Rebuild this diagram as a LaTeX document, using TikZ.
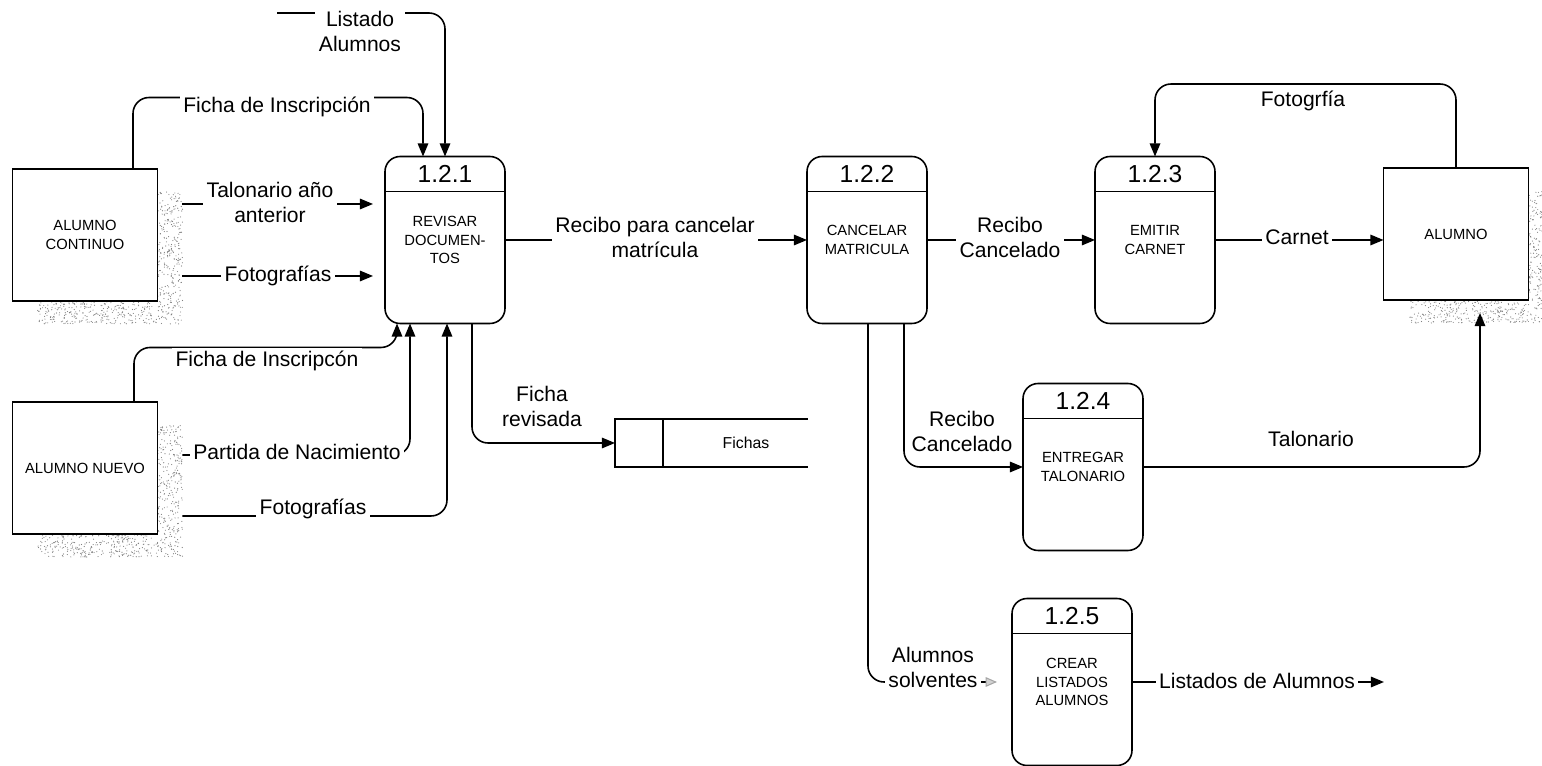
\documentclass[tikz,border=0pt]{standalone}
\usepackage{fontspec}
\setmainfont{Liberation Sans}
\usetikzlibrary{arrows.meta,calc}

% stippled drop shadow: right strip and bottom strip of an offset box
\newcommand\dotshadow[1]{%
  \foreach \k in {1,...,300}{\fill[black!50] (#1.north east) ++({-rnd*25},{rnd*132}) circle (0.33pt);}
  \foreach \k in {1,...,300}{\fill[black!50] (#1.south west) ++({rnd*120},{-rnd*23}) circle (0.33pt);}
}

% process: rounded box, header line, number
\newcommand\dfdproc[4]{%
  \node[proc] (#1) at (#2) {#4};
  \draw[line width=0.9pt] ($(#1.north west)+(0,35)$) -- ($(#1.north east)+(0,35)$);
  \node[pnum] (#1n) at ($(#1.north)+(0,17.5)$) {#3};
}

\begin{document}
\begin{tikzpicture}[x=0.02cm,y=-0.02cm,
  every node/.style={inner sep=0pt, outer sep=0pt},
  ext/.style={draw, fill=white, line width=0.9pt, minimum width=2.9cm, minimum height=2.64cm,
              align=center, font=\fontsize{8.4}{10.4}\selectfont},
  dropzone/.style={minimum width=2.9cm, minimum height=2.64cm},
  proc/.style={draw, fill=white, line width=0.9pt, rounded corners=0.3cm, minimum width=2.4cm,
               minimum height=3.34cm, align=center, font=\fontsize{8.4}{10.6}\selectfont},
  pnum/.style={font=\fontsize{14}{16}\selectfont},
  flow/.style={draw, line width=0.9pt, rounded corners=0.32cm, -{Triangle[length=7.5pt,width=6pt]}},
  softflow/.style={draw, line width=0.9pt, rounded corners=0.32cm,
                   -{Triangle[length=6.5pt,width=5.5pt,color=gray!70,fill=gray!35,line width=0.6pt]}},
  lbl/.style={fill=white, inner sep=2pt, align=center, font=\fontsize{12}{14.2}\selectfont},
]
\useasboundingbox (0,0) rectangle (1542,766);
\pgfmathsetseed{7}

% external entities with stippled shadows
\node[dropzone] (acS) at (110,258) {};
\node[dropzone] (anS) at (110,491) {};
\node[dropzone] (alS) at (1481,257) {};
\dotshadow{acS}
\dotshadow{anS}
\dotshadow{alS}
\node[ext] (ac) at (85,235) {ALUMNO\\CONTINUO};
\node[ext] (an) at (85,468) {ALUMNO NUEVO};
\node[ext] (al) at (1456,234) {ALUMNO};

% processes
\dfdproc{p1}{445,240}{1.2.1}{REVISAR\\DOCUMEN-\\TOS}
\dfdproc{p2}{867,240}{1.2.2}{CANCELAR\\MATRICULA}
\dfdproc{p3}{1155,240}{1.2.3}{EMITIR\\CARNET}
\dfdproc{p4}{1083,467}{1.2.4}{ENTREGAR\\TALONARIO}
\dfdproc{p5}{1072,682}{1.2.5}{CREAR\\LISTADOS\\ALUMNOS}

% data store
\node[minimum width=3.86cm, minimum height=0.96cm] (st) at (711.5,443) {};
\draw[line width=0.9pt] (st.north east) -- (st.north west) -- (st.south west) -- (st.south east);
\draw[line width=0.9pt] ($(st.north west)+(48,0)$) -- ($(st.south west)+(48,0)$);
\node[font=\fontsize{9}{11}\selectfont] (stl) at (746,443) {Fichas};

% free ends
\coordinate (lsrc) at (277,13);
\coordinate (lout) at (1384,682);

% flows into 1.2.1
\draw[flow] ($(ac.north)+(48,0)$) |- ($(p1.north)+(-22,-59)$) -- ($(p1.north)+(-22,0)$);
\draw[flow] (lsrc) -| (p1.north);
\draw[flow, shorten >=0.24cm] ($(acS.east)+(0,-54)$) -- ($(p1.west)+(0,-36)$);
\draw[flow, shorten >=0.24cm] ($(acS.east)+(0,18)$) -- ($(p1.west)+(0,36)$);
\draw[flow] ($(an.north)+(49,0)$) |- ($(p1.south)+(-48,24)$) -- ($(p1.south)+(-48,0)$);
\draw[flow] ($(anS.east)+(0,-36)$) -| ($(p1.south)+(-35,0)$);
\draw[flow] ($(anS.east)+(0,25)$) -| ($(p1.south)+(2,0)$);

% flows out of the processes
\draw[flow] ($(p1.south)+(27,0)$) |- (st.west);
\draw[flow] (p1.east) -- (p2.west);
\draw[flow] (p2.east) -- (p3.west);
\draw[flow] (p3.east) -- (p3.east -| al.west);
\draw[flow] (al.north) -- ++(0,-84) -| (p3.north);
\draw[flow, shorten >=0.26cm] (p4.east) -| ($(al.south)+(24,0)$);
\draw[flow] ($(p2.south)+(37,0)$) |- (p4.west);
\draw[softflow, shorten >=0.3cm] ($(p2.south)+(1,0)$) |- (p5.west);
\draw[flow] (p5.east) -- (lout);

% flow labels
\node[lbl, anchor=base] (l1) at (277,113) {Ficha de Inscripción};
\node[lbl] (l2) at (360,31.75) {Listado\\Alumnos};
\node[lbl] (l3) at (270,202.75) {Talonario año\\anterior};
\node[lbl, anchor=base] (l4) at (278,282) {Fotografías};
\node[lbl, anchor=base] (l5) at (267,367) {Ficha de Inscripcón};
\node[lbl, anchor=base] (l6) at (297,460) {Partida de Nacimiento};
\node[lbl, anchor=base] (l7) at (313,515) {Fotografías};
\node[lbl] (l8) at (542,406.75) {Ficha\\revisada};
\node[lbl] (l9) at (655,237.75) {Recibo para cancelar\\matrícula};
\node[lbl] (l10) at (1010,237.75) {Recibo\\Cancelado};
\node[lbl, anchor=base] (l11) at (1303,107) {Fotogrfía};
\node[lbl, anchor=base] (l12) at (1297,245) {Carnet};
\node[lbl] (l13) at (962,431.75) {Recibo\\Cancelado};
\node[lbl, anchor=base] (l14) at (1311,447) {Talonario};
\node[lbl] (l15) at (933,667.75) {Alumnos\\solventes};
\node[lbl, anchor=base] (l16) at (1257,688) {Listados de Alumnos};
\end{tikzpicture}
\end{document}
